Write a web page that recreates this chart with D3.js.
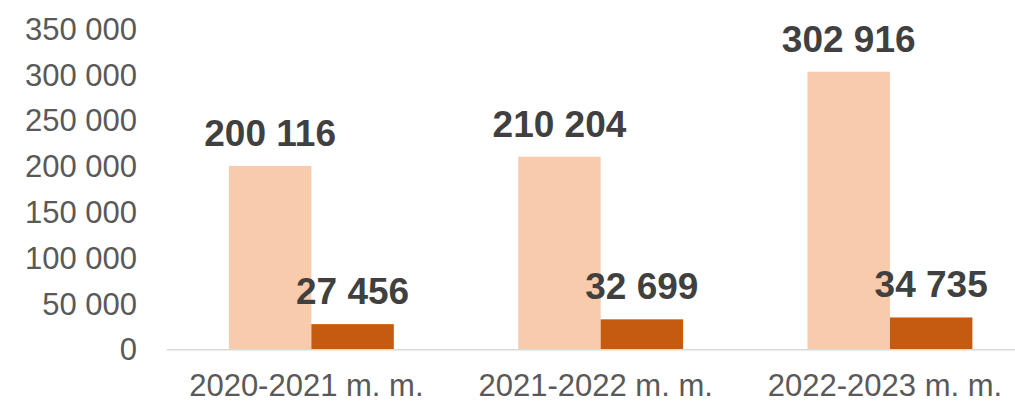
<!DOCTYPE html>
<html lang="lt">

<head>
    <meta charset="utf-8">
    <title>chart</title>
    <style>
        body {
            margin: 0;
            background: #fff;
        }

        .tick-label {
            fill: #595959;
            font-size: 31px;
            font-family: "Liberation Sans", Arial, sans-serif;
        }

        .value-label {
            fill: #404040;
            font-size: 37px;
            font-weight: bold;
            font-family: "Liberation Sans", Arial, sans-serif;
        }
    </style>
</head>

<body>
    <div id="chart"></div>
    <script src="https://cdn.jsdelivr.net/npm/d3@7"></script>
    <script>
        var categories = ['2020-2021 m. m.', '2021-2022 m. m.', '2022-2023 m. m.'];
        var seriesA = [200116, 210204, 302916];
        var seriesB = [27456, 32699, 34735];
        var yTicks = [0, 50000, 100000, 150000, 200000, 250000, 300000, 350000];
        var colors = ['#F8CBAD', '#C55A11'];

        var svgWidth = 1015;
        var svgHeight = 402;
        var axisLeft = 166.7;
        var baseY = 349.3;
        var topY = 28.6;

        var svg = d3.select('#chart')
            .append('svg')
            .attr('width', svgWidth)
            .attr('height', svgHeight);

        var xScale = d3.scaleBand()
            .domain(categories)
            .range([axisLeft, axisLeft + 3 * 289.3])
            .paddingInner(0.43)
            .paddingOuter(0.215);

        var subScale = d3.scaleBand()
            .domain([0, 1])
            .range([0, xScale.bandwidth()]);

        var yScale = d3.scaleLinear()
            .domain([0, 350000])
            .range([baseY, topY]);

        var fmt = function (v) {
            return d3.format(',')(v).replace(/,/g, ' ');
        };

        // y tick labels (no axis line)
        svg.append('g')
            .selectAll('text')
            .data(yTicks)
            .enter()
            .append('text')
            .attr('class', 'tick-label')
            .attr('x', 137)
            .attr('y', (d) => yScale(d))
            .attr('dy', '0.36em')
            .attr('text-anchor', 'end')
            .text(fmt);

        var groups = categories.map((c, i) => ({ cat: c, vals: [seriesA[i], seriesB[i]] }));

        var g = svg.selectAll('.grp')
            .data(groups)
            .enter()
            .append('g')
            .attr('class', 'grp')
            .attr('transform', (d) => `translate(${xScale(d.cat)},0)`);

        g.selectAll('rect')
            .data((d) => d.vals)
            .enter()
            .append('rect')
            .attr('x', (d, i) => subScale(i))
            .attr('y', (d) => yScale(d))
            .attr('width', subScale.bandwidth())
            .attr('height', (d) => baseY - yScale(d))
            .attr('fill', (d, i) => colors[i]);

        g.selectAll('.value-label')
            .data((d) => d.vals)
            .enter()
            .append('text')
            .attr('class', 'value-label')
            .attr('x', (d, i) => subScale(i) + subScale.bandwidth() / 2)
            .attr('y', (d) => yScale(d) - 20)
            .attr('text-anchor', 'middle')
            .text(fmt);

        // x axis line
        svg.append('line')
            .attr('x1', axisLeft)
            .attr('x2', svgWidth)
            .attr('y1', baseY + 0.5)
            .attr('y2', baseY + 0.5)
            .attr('stroke', '#D9D9D9')
            .attr('stroke-width', 1.5);

        // category labels
        svg.append('g')
            .selectAll('text')
            .data(categories)
            .enter()
            .append('text')
            .attr('class', 'tick-label')
            .attr('x', (d) => xScale(d) + xScale.bandwidth() / 2 - 5)
            .attr('y', 396)
            .attr('text-anchor', 'middle')
            .text((d) => d);
    </script>
</body>

</html>
